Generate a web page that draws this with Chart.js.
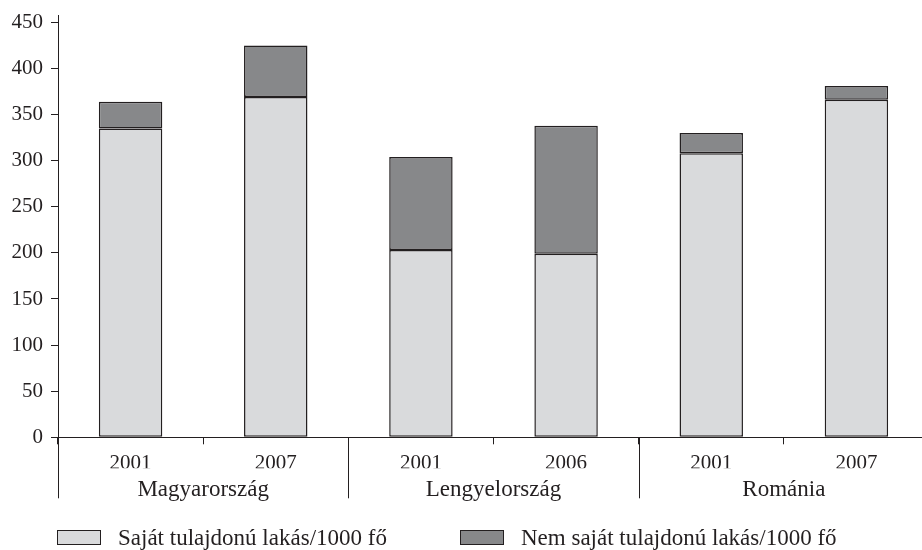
<!DOCTYPE html>
<html>
<head>
<meta charset="utf-8">
<script src="https://cdn.jsdelivr.net/npm/chart.js@4/dist/chart.umd.min.js"></script>
<style>
    html, body { margin: 0; padding: 0; background: #fff; overflow: hidden; }
    #wrap { position: relative; width: 929px; height: 550px; }
    #legend {
        position: absolute; left: 57px; top: 526px; display: flex;
        font-family: 'Liberation Serif', 'Times New Roman', serif; font-size: 23px;
        line-height: 23px; color: #231f20; white-space: nowrap;
    }
    #legend .item { display: flex; align-items: center; height: 23px; }
    #legend .item:first-child { width: 403px; }
    #legend .box { width: 44px; height: 15px; box-sizing: border-box; border: 1.5px solid #231f20; margin-right: 17px; }
</style>
</head>
<body>
<div id="wrap">
    <canvas id="homesChart"></canvas>
    <div id="legend"></div>
</div>
<script>
// Data
const years = ["2001", "2007", "2001", "2006", "2001", "2007"];
const countries = ["Magyarország", "Lengyelország", "Románia"];
const ownHomes = [335, 369, 203, 199, 308, 366];
const otherHomes = [29, 56, 101, 139, 22, 15];
const yTickValues = [0, 50, 100, 150, 200, 250, 300, 350, 400, 450];
const seriesNames = ["Saját tulajdonú lakás/1000 fő", "Nem saját tulajdonú lakás/1000 fő"];

const ink = "#231f20";
const serif = "'Liberation Serif', 'Times New Roman', serif";

// Long separator lines between the country groups under the x axis
const groupLines = {
    id: "groupLines",
    afterDraw(chart) {
        const x = chart.scales.x;
        const ctx = chart.ctx;
        const per = years.length / countries.length;
        const step = x.getPixelForValue(1) - x.getPixelForValue(0);
        ctx.save();
        ctx.strokeStyle = ink;
        ctx.lineWidth = 1;
        for (let g = 0; g <= countries.length; g++) {
            const px = Math.round(x.getPixelForValue(g * per) - step / 2) + 0.5;
            ctx.beginPath();
            ctx.moveTo(px, x.top);
            ctx.lineTo(px, x.top + 61);
            ctx.stroke();
        }
        ctx.restore();
    }
};

const chart = new Chart(document.getElementById("homesChart"), {
    type: "bar",
    data: {
        labels: years,
        datasets: [{
            label: seriesNames[0],
            data: ownHomes,
            backgroundColor: "#d9dadc",
            borderColor: ink,
            borderWidth: 1.5,
            borderSkipped: false
        }, {
            label: seriesNames[1],
            data: otherHomes,
            backgroundColor: "#87888a",
            borderColor: ink,
            borderWidth: 1.5,
            borderSkipped: false
        }]
    },
    options: {
        responsive: true,
        maintainAspectRatio: false,
        animation: false,
        layout: { padding: { top: 15, left: 0, right: 0, bottom: 43.7 } },
        datasets: { bar: { categoryPercentage: 1, barPercentage: 0.437 } },
        scales: {
            x: {
                stacked: true,
                offset: true,
                weight: 0,
                grid: { offset: true, drawOnChartArea: false, tickLength: 7, color: ink },
                border: { color: ink },
                ticks: { color: ink, font: { family: serif, size: 21 }, padding: 7, maxRotation: 0 },
                afterFit: s => { s.height = 31; }
            },
            x2: {
                type: "category",
                labels: countries,
                position: "bottom",
                offset: true,
                weight: 1,
                grid: { display: false },
                border: { display: false },
                ticks: { color: ink, font: { family: serif, size: 23 }, padding: 0, maxRotation: 0 },
                afterFit: s => { s.height = 38; }
            },
            y: {
                stacked: true,
                min: 0,
                max: 458,
                grid: { drawOnChartArea: false, tickLength: 7, color: ink },
                border: { color: ink },
                ticks: { color: ink, font: { family: serif, size: 21 }, padding: 8 },
                afterBuildTicks: s => { s.ticks = yTickValues.map(v => ({ value: v })); },
                afterFit: s => { s.width = 58; s.paddingTop = 0; s.paddingBottom = 0; }
            }
        },
        plugins: {
            legend: { display: false },
            tooltip: { enabled: false }
        }
    },
    plugins: [groupLines]
});

// Legend built from the chart's own datasets
const legendEl = document.getElementById("legend");
chart.data.datasets.forEach(ds => {
    const item = document.createElement("div");
    item.className = "item";
    const box = document.createElement("span");
    box.className = "box";
    box.style.background = ds.backgroundColor;
    item.appendChild(box);
    item.appendChild(document.createTextNode(ds.label));
    legendEl.appendChild(item);
});
</script>
</body>
</html>
